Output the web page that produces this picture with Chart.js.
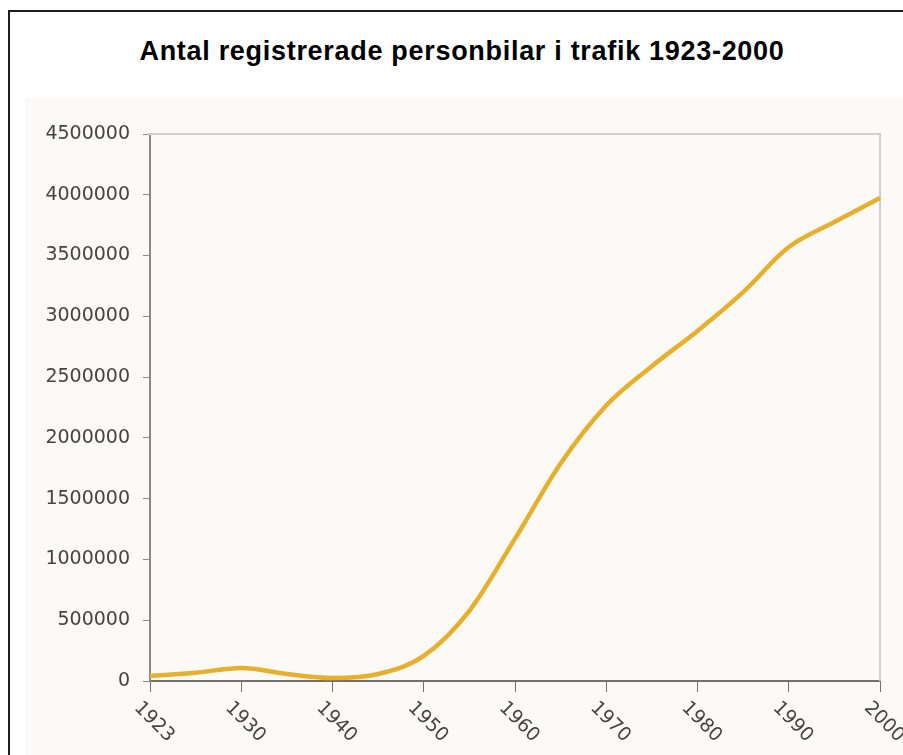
<!DOCTYPE html>
<html>
<head>
<meta charset="utf-8">
<script src="https://cdn.jsdelivr.net/npm/chart.js@4.4.1/dist/chart.umd.min.js"></script>
<style>
    html, body { margin: 0; padding: 0; background: #ffffff; overflow: hidden; }
    #page { position: relative; width: 903px; height: 755px; }
    #frame { position: absolute; left: 8px; top: 10px; width: 920px; height: 770px; border: 2px solid #1e1e1e; }
    #title { position: absolute; left: 0; top: 36px; width: 924px; text-align: center; letter-spacing: 0.7px;
             font: bold 27px "Liberation Sans", Arial, sans-serif; color: #000; }
    #scan { position: absolute; left: 25px; top: 98px; width: 878px; height: 657px; background: #fcfaf7; }
</style>
</head>
<body>
<div id="page">
    <div id="frame"></div>
    <div id="title">Antal registrerade personbilar i trafik 1923-2000</div>
    <div id="scan"><canvas id="carChart" width="878" height="657"></canvas></div>
</div>
<script>
// Years on the category axis (every second one gets a label)
const years = ['1923', '1925', '1930', '1935', '1940', '1945', '1950', '1955', '1960',
               '1965', '1970', '1975', '1980', '1985', '1990', '1995', '2000'];
// Cars in traffic
const cars = [41000, 68000, 107000, 58000, 25000, 58000, 206000, 577000, 1171000,
              1790000, 2267000, 2590000, 2880000, 3199000, 3570000, 3776000, 3974000];
// Tick labels on the y axis
const yTicks = [0, 500000, 1000000, 1500000, 2000000, 2500000, 3000000, 3500000, 4000000, 4500000];

const ctx = document.getElementById('carChart').getContext('2d');

// light frame round the plot area + rotated year labels
const framePlugin = {
    id: 'plotFrame',
    beforeDatasetsDraw(chart) {
        const a = chart.chartArea;
        const c = chart.ctx;
        c.save();
        c.strokeStyle = '#cfcfcf';
        c.lineWidth = 2;
        c.beginPath();
        c.moveTo(a.left - 2, a.top);
        c.lineTo(a.right, a.top);
        c.lineTo(a.right, a.bottom);
        c.stroke();
        c.restore();
    },
    afterDraw(chart) {
        const x = chart.scales.x;
        const c = chart.ctx;
        c.save();
        c.fillStyle = '#444444';
        c.font = '19px "DejaVu Sans", sans-serif';
        c.textAlign = 'center';
        c.textBaseline = 'middle';
        years.forEach((label, i) => {
            if (i % 2 !== 0) return; // only every second year has a label
            const px = x.getPixelForValue(i);
            c.save();
            c.translate(px + 4, x.top + 41);
            c.rotate(Math.PI / 4);
            c.fillText(label, 0, 0);
            c.restore();
        });
        c.restore();
    }
};

new Chart(ctx, {
    type: 'line',
    data: {
        labels: years,
        datasets: [{
            data: cars,
            borderColor: '#e6b02e',
            borderWidth: 4.5,
            pointRadius: 0,
            tension: 0.4,
            cubicInterpolationMode: 'monotone',
            fill: false
        }]
    },
    options: {
        responsive: false,
        animation: false,
        layout: { padding: { top: 36, right: 23, left: 0, bottom: 0 } },
        plugins: {
            legend: { display: false },
            tooltip: { enabled: false }
        },
        scales: {
            x: {
                type: 'category',
                offset: false,
                border: { color: '#707070', width: 2 },
                grid: {
                    drawOnChartArea: false,
                    tickLength: 11,
                    tickColor: (c) => (c.index % 2 === 0 ? '#707070' : 'rgba(0,0,0,0)')
                },
                ticks: { display: false, autoSkip: false },
                afterFit: (scale) => { scale.height = 74; }
            },
            y: {
                min: 0,
                max: 4500000,
                afterBuildTicks: (scale) => { scale.ticks = yTicks.map(v => ({ value: v })); },
                border: { color: '#8a8a8a', width: 2 },
                grid: { drawOnChartArea: false, tickLength: 7, tickColor: '#8a8a8a' },
                ticks: {
                    color: '#444444',
                    padding: 13,
                    font: { family: '"DejaVu Sans", sans-serif', size: 19 },
                    callback: (v) => String(v)
                },
                afterFit: (scale) => { scale.width = 125; }
            }
        }
    },
    plugins: [framePlugin]
});
</script>
</body>
</html>
